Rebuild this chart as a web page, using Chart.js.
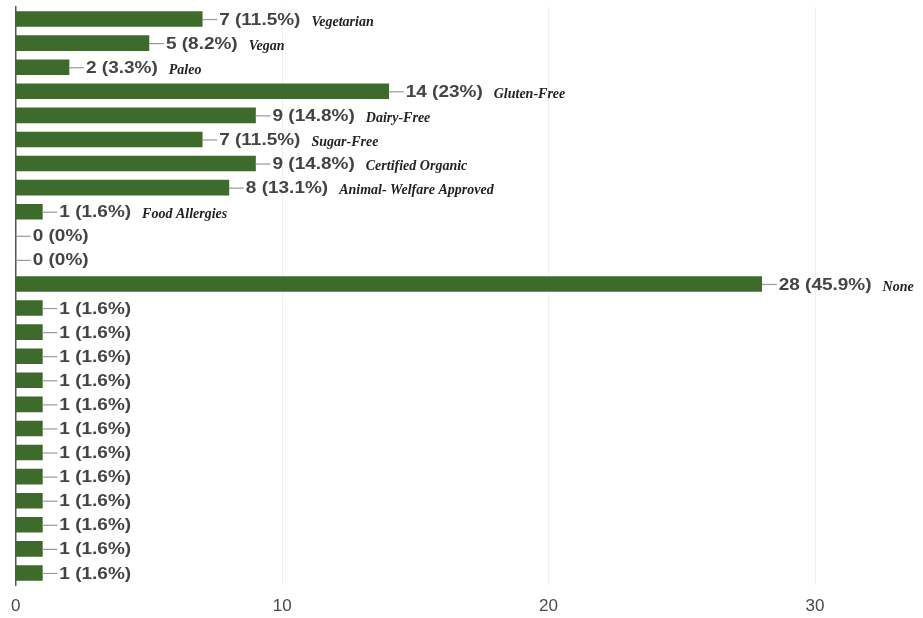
<!DOCTYPE html>
<html>
<head>
<meta charset="utf-8">
<script src="https://cdn.jsdelivr.net/npm/chart.js@4"></script>
<style>
  html, body { margin:0; padding:0; background:#fff; }
  #wrap { width:923px; height:618px; }
</style>
</head>
<body>
<div id="wrap"><canvas id="chart" width="923" height="618"></canvas></div>
<script>
// data (61 responses)
const categories = [
  'Vegetarian', 'Vegan', 'Paleo', 'Gluten-Free', 'Dairy-Free', 'Sugar-Free',
  'Certified Organic', 'Animal- Welfare Approved', 'Food Allergies', '', '', 'None',
  '', '', '', '', '', '', '', '', '', '', '', ''
];
const counts = [7, 5, 2, 14, 9, 7, 9, 8, 1, 0, 0, 28, 1, 1, 1, 1, 1, 1, 1, 1, 1, 1, 1, 1];
const percents = [11.5, 8.2, 3.3, 23, 14.8, 11.5, 14.8, 13.1, 1.6, 0, 0, 45.9,
  1.6, 1.6, 1.6, 1.6, 1.6, 1.6, 1.6, 1.6, 1.6, 1.6, 1.6, 1.6];
const xTicks = [0, 10, 20, 30];

const BAR = '#3e6b2b';
const STRETCH = 1.15; // source labels look horizontally stretched

// leader line + "n (p%)" + italic category name after each bar
const barLabels = {
  id: 'barLabels',
  afterDatasetsDraw(chart){
    const ctx = chart.ctx;
    const meta = chart.getDatasetMeta(0);
    ctx.save();
    meta.data.forEach((bar, i) => {
      const x = bar.x, y = bar.y;
      ctx.strokeStyle = '#9a9a9a';
      ctx.lineWidth = 1.2;
      ctx.beginPath();
      ctx.moveTo(x, y + 0.5);
      ctx.lineTo(x + 15, y + 0.5);
      ctx.stroke();

      const txt = `${counts[i]} (${percents[i]}%)`;
      ctx.font = 'bold 16.5px "Liberation Sans"';
      ctx.fillStyle = '#444';
      ctx.textBaseline = 'middle';
      ctx.textAlign = 'left';
      const w = ctx.measureText(txt).width * STRETCH;
      ctx.save();
      ctx.translate(x + 17, y + 1);
      ctx.scale(STRETCH, 1);
      ctx.fillText(txt, 0, 0);
      ctx.restore();

      if(categories[i]){
        ctx.font = 'italic bold 14px "Liberation Serif"';
        ctx.fillStyle = '#222';
        ctx.fillText(categories[i], x + 17 + w + 11, y + 3);
      }
    });
    ctx.restore();
  }
};

new Chart(document.getElementById('chart').getContext('2d'), {
  type: 'bar',
  data: {
    labels: categories,
    datasets: [{ data: counts, backgroundColor: BAR, barThickness: 15 }]
  },
  options: {
    indexAxis: 'y',
    responsive: false,
    animation: false,
    layout: { padding: { left: 15, right: 108, top: 7, bottom: 0 } },
    plugins: { legend: { display: false }, tooltip: { enabled: false } },
    scales: {
      x: {
        min: 0, max: 30,
        afterBuildTicks: s => { s.ticks = xTicks.map(v => ({ value: v })); },
        afterFit: s => { s.height = 33; },
        grid: { color: '#efefef', lineWidth: 1, drawTicks: false },
        border: { display: false },
        ticks: { color: '#4a4a4a', font: { family: 'Liberation Sans', size: 17 }, padding: 11 }
      },
      y: {
        afterFit: s => { s.width = 0; },
        grid: { display: false },
        border: { display: true, color: '#555', width: 1.5 },
        ticks: { display: false }
      }
    }
  },
  plugins: [barLabels]
});
</script>
</body>
</html>
